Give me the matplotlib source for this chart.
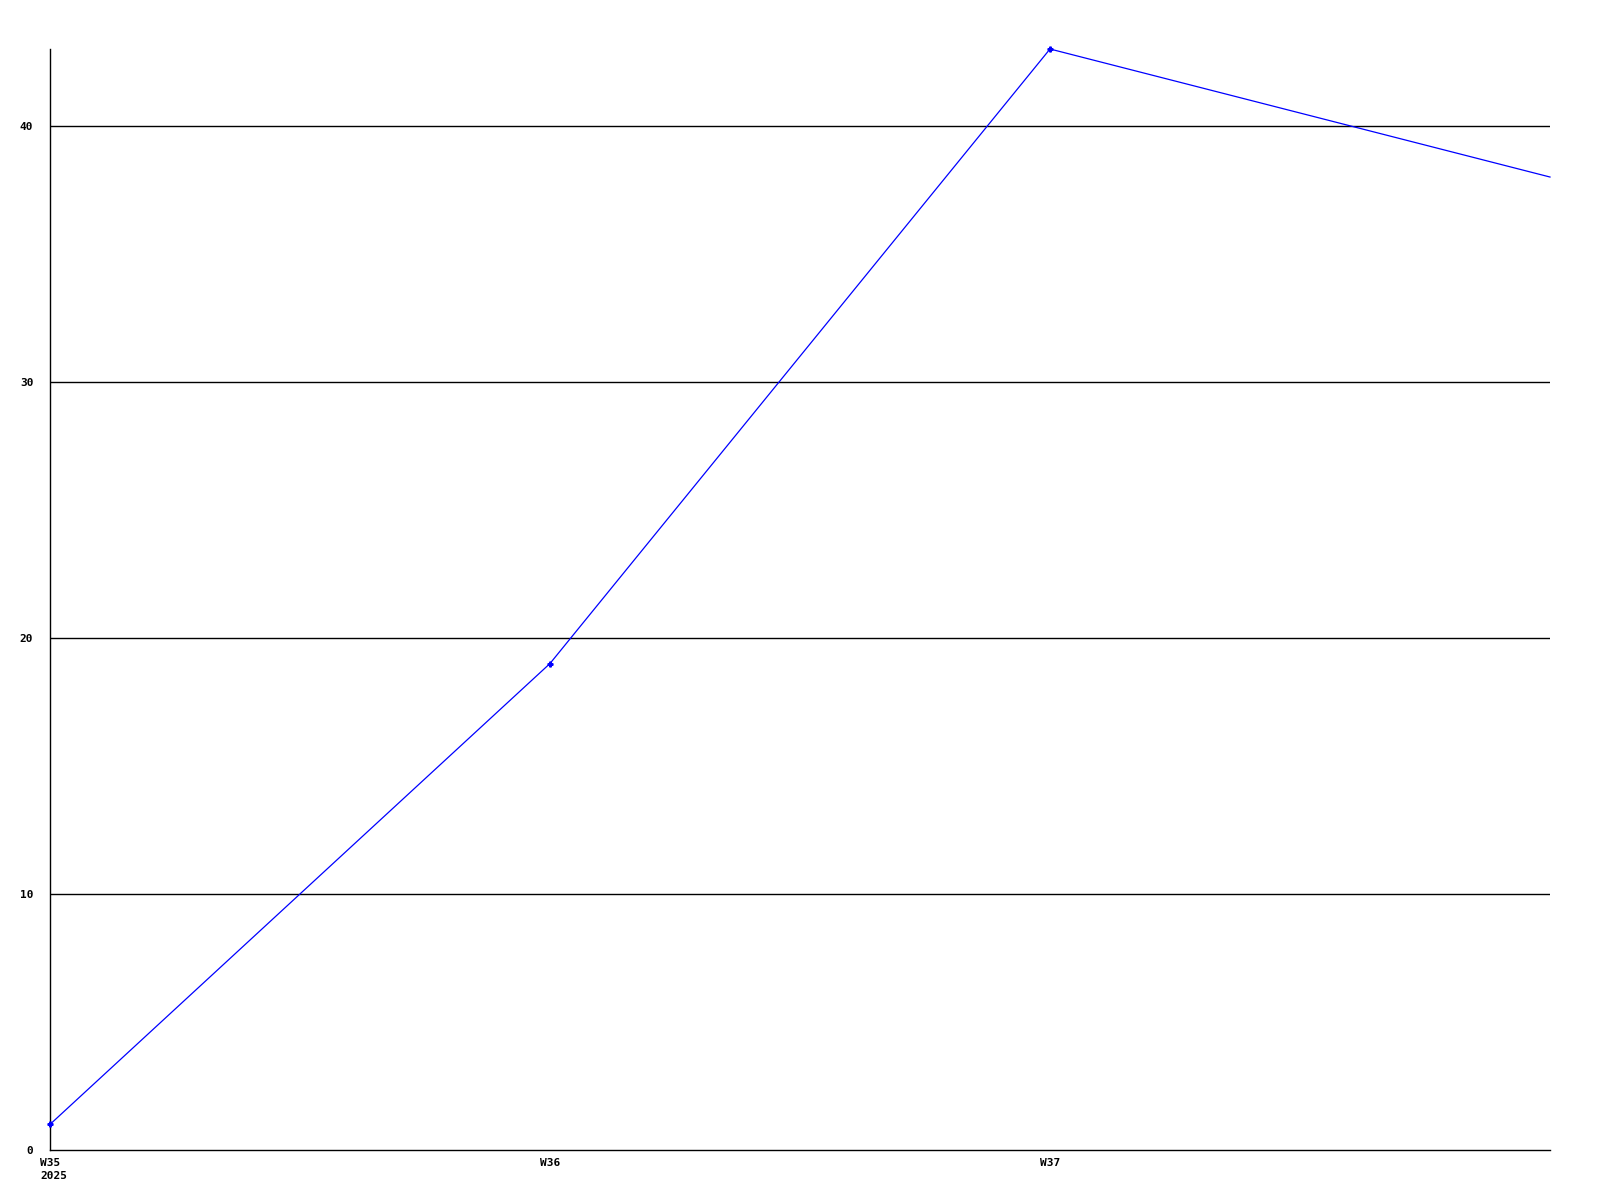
import matplotlib
matplotlib.use("Agg")
import matplotlib.pyplot as plt
import matplotlib.transforms as mtransforms

weeks = ["W35\n2025", "W36", "W37", "W38"]
values = [1, 19, 43, 38]
yticks = [0, 10, 20, 30, 40]

fig = plt.figure(figsize=(16, 12), dpi=100)
ax = fig.add_axes([50/1600, 50/1200, 1500/1600, (1150-49)/1200])
x = list(range(len(weeks)))
ax.plot(x, values, color=(0, 0, 1), lw=0.9, marker="P", ms=3.5,
        markevery=[0, 1, 2], clip_on=False, zorder=3)
ax.set_xlim(0, 3)
ax.set_ylim(0, 43)
ax.set_yticks(yticks)
ax.set_yticklabels([str(v) for v in yticks])
ax.set_xticks(x[:3])
ax.set_xticklabels(weeks[:3])
for y in yticks[1:]:
    ax.axhline(y, color="black", lw=1.0, zorder=1)
for s in ["top", "right"]:
    ax.spines[s].set_visible(False)
for s in ["left", "bottom"]:
    ax.spines[s].set_linewidth(1.0)
    ax.spines[s].set_color("black")
font = dict(family="DejaVu Sans Mono", weight="bold", size=8)
ax.tick_params(axis="both", length=0)
ax.tick_params(axis="y", pad=12)
ax.tick_params(axis="x", pad=5.5)
offset = mtransforms.ScaledTranslation(-10/100, 0, fig.dpi_scale_trans)
for lab in ax.get_xticklabels():
    lab.set_fontproperties(matplotlib.font_manager.FontProperties(**font))
    lab.set_ha("left")
    lab.set_multialignment("left")
    lab.set_linespacing(1.4)
    lab.set_transform(lab.get_transform() + offset)
for lab in ax.get_yticklabels():
    lab.set_fontproperties(matplotlib.font_manager.FontProperties(**font))
fig.savefig("out.png", dpi=100, facecolor="white")
